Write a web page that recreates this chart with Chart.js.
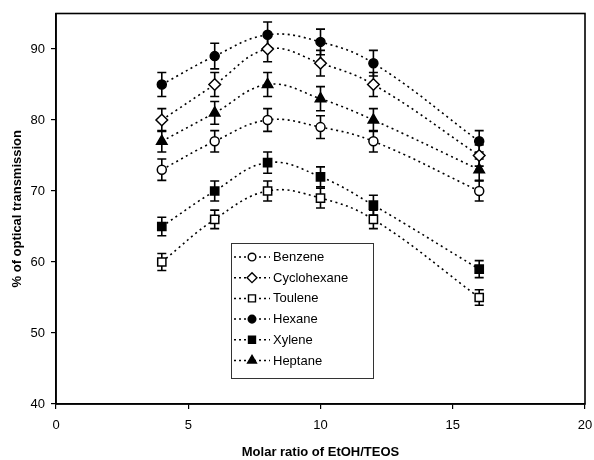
<!DOCTYPE html>
<html><head><meta charset="utf-8">
<script src="https://cdn.jsdelivr.net/npm/chart.js@4/dist/chart.umd.min.js"></script>
<style>html,body{margin:0;padding:0;background:#fff}#wrap{width:594px;height:460px}</style>
</head><body><div id="wrap"><canvas id="c" width="594" height="460"></canvas></div>
<script>
// ---- data ----
const molarRatio = [4, 6, 8, 10, 12, 16];
const seriesNames = ['Benzene', 'Cyclohexane', 'Toulene', 'Hexane', 'Xylene', 'Heptane'];
const benzene     = [73, 77, 80, 79, 77, 70];
const cyclohexane = [80, 85, 90, 88, 85, 75];
const toulene     = [60, 66, 70, 69, 66, 55];
const hexane      = [85, 89, 92, 91, 88, 77];
const xylene      = [65, 70, 74, 72, 68, 59];
const heptane     = [77, 81, 85, 83, 80, 73];
const benzeneErr     = [1.5, 1.5, 1.6, 1.6, 1.5, 1.4];
const cyclohexaneErr = [1.6, 1.7, 1.8, 1.8, 1.7, 1.5];
const touleneErr     = [1.2, 1.3, 1.4, 1.4, 1.3, 1.1];
const hexaneErr      = [1.7, 1.8, 1.8, 1.8, 1.8, 1.5];
const xyleneErr      = [1.3, 1.4, 1.5, 1.4, 1.4, 1.2];
const heptaneErr     = [1.5, 1.6, 1.7, 1.7, 1.6, 1.5];
const xTicks = [0, 5, 10, 15, 20];
const yTicks = [40, 50, 60, 70, 80, 90];

const FONT = "'Liberation Sans', Arial, sans-serif";
const values = [benzene, cyclohexane, toulene, hexane, xylene, heptane];
const errors = [benzeneErr, cyclohexaneErr, touleneErr, hexaneErr, xyleneErr, heptaneErr];
const styles = [
  {pointStyle: 'circle',   radius: 4.5, fill: '#fff'},
  {pointStyle: 'rectRot',  radius: 5.8, fill: '#fff'},
  {pointStyle: 'rect',     radius: 5.8, fill: '#fff'},
  {pointStyle: 'circle',   radius: 4.5, fill: '#000'},
  {pointStyle: 'rect',     radius: 5.8, fill: '#000'},
  {pointStyle: 'triangle', radius: 6,   fill: '#000'}
];

const datasets = seriesNames.map((name, i) => ({
  label: name,
  data: molarRatio.map((x, j) => ({x: x, y: values[i][j]})),
  errors: errors[i],
  borderColor: '#000',
  borderWidth: 1.6,
  borderDash: [2, 3.5],
  tension: 0.4,
  fill: false,
  pointStyle: styles[i].pointStyle,
  pointRadius: styles[i].radius,
  pointBackgroundColor: styles[i].fill,
  pointBorderColor: '#000',
  pointBorderWidth: 1.5
}));

const bgPlugin = {
  id: 'bg',
  beforeDraw(chart) {
    const ctx = chart.ctx;
    ctx.save(); ctx.fillStyle = '#fff';
    ctx.fillRect(0, 0, chart.width, chart.height); ctx.restore();
  }
};

const errorBarPlugin = {
  id: 'errorBars',
  beforeDatasetsDraw(chart) {
    const ctx = chart.ctx, xs = chart.scales.x, ys = chart.scales.y;
    ctx.save();
    ctx.strokeStyle = '#000'; ctx.lineWidth = 1.6; ctx.setLineDash([]);
    chart.data.datasets.forEach(ds => {
      ds.data.forEach((p, j) => {
        const e = ds.errors[j];
        const x = xs.getPixelForValue(p.x);
        const y1 = ys.getPixelForValue(p.y + e);
        const y2 = ys.getPixelForValue(p.y - e);
        ctx.beginPath();
        ctx.moveTo(x, y1); ctx.lineTo(x, y2);
        ctx.moveTo(x - 4.5, y1); ctx.lineTo(x + 4.5, y1);
        ctx.moveTo(x - 4.5, y2); ctx.lineTo(x + 4.5, y2);
        ctx.stroke();
      });
    });
    ctx.restore();
  }
};

const framePlugin = {
  id: 'frame',
  afterDraw(chart) {
    const {left, top, right, bottom} = chart.chartArea;
    const ctx = chart.ctx;
    ctx.save();
    ctx.strokeStyle = '#000'; ctx.lineWidth = 1.6; ctx.setLineDash([]);
    ctx.strokeRect(left, top, right - left, bottom - top);
    ctx.restore();
  }
};

const legendPlugin = {
  id: 'boxLegend',
  afterDraw(chart) {
    const ctx = chart.ctx, ca = chart.chartArea;
    const bx = ca.left + 175, by = ca.top + 229.5, bw = 142, bh = 135;
    ctx.save();
    ctx.fillStyle = '#fff';
    ctx.fillRect(bx, by, bw, bh);
    ctx.strokeStyle = '#333'; ctx.lineWidth = 1;
    ctx.strokeRect(bx + 0.5, by + 0.5, bw, bh);
    chart.data.datasets.forEach((ds, i) => {
      const y = by + 14 + i * 20.7;
      ctx.strokeStyle = '#000'; ctx.lineWidth = 1.5;
      ctx.setLineDash([2, 3]);
      ctx.beginPath(); ctx.moveTo(bx + 3, y); ctx.lineTo(bx + 39, y); ctx.stroke();
      ctx.setLineDash([]);
      ctx.fillStyle = ds.pointBackgroundColor;
      ctx.strokeStyle = '#000';
      ctx.lineWidth = 1.4;
      Chart.helpers.drawPoint(ctx, {pointStyle: ds.pointStyle, radius: ds.pointRadius * 0.85, rotation: 0, borderWidth: 1.4}, bx + 21, y);
      ctx.fillStyle = '#000';
      ctx.font = '13px ' + FONT;
      ctx.textBaseline = 'middle'; ctx.textAlign = 'left';
      ctx.fillText(ds.label, bx + 42, y + 0.5);
    });
    ctx.restore();
  }
};

new Chart(document.getElementById('c'), {
  type: 'line',
  data: {datasets: datasets},
  plugins: [bgPlugin, errorBarPlugin, framePlugin, legendPlugin],
  options: {
    responsive: false,
    animation: false,
    devicePixelRatio: 1,
    layout: {padding: {top: 13.5, right: 9, left: 0, bottom: 0}},
    plugins: {legend: {display: false}, tooltip: {enabled: false}},
    scales: {
      x: {
        type: 'linear', min: 0, max: 20,
        afterBuildTicks(s) { s.ticks = xTicks.map(v => ({value: v})); },
        afterFit(s) { s.height = 56; s.paddingLeft = 0; s.paddingRight = 0; },
        ticks: {color: '#000', font: {family: FONT, size: 13}, padding: 9, maxRotation: 0},
        grid: {drawOnChartArea: false, drawTicks: true, tickLength: 5, color: '#000', lineWidth: 1.2},
        border: {display: true, color: '#000', width: 1.6},
        title: {display: true, text: 'Molar ratio of EtOH/TEOS', color: '#000',
                font: {family: FONT, size: 13, weight: 'bold', lineHeight: 1.2}, padding: {top: 0, bottom: 0}}
      },
      y: {
        type: 'linear', min: 40, max: 95,
        afterBuildTicks(s) { s.ticks = yTicks.map(v => ({value: v})); },
        afterFit(s) { s.width = 56; s.paddingTop = 0; s.paddingBottom = 0; },
        ticks: {color: '#000', font: {family: FONT, size: 13}, padding: 6},
        grid: {drawOnChartArea: false, drawTicks: true, tickLength: 5, color: '#000', lineWidth: 1.2},
        border: {display: true, color: '#000', width: 1.6},
        title: {display: true, text: '% of optical transmission', color: '#000',
                font: {family: FONT, size: 13, weight: 'bold', lineHeight: 1.2}, padding: {top: 10, bottom: 0}}
      }
    }
  }
});
</script></body></html>
